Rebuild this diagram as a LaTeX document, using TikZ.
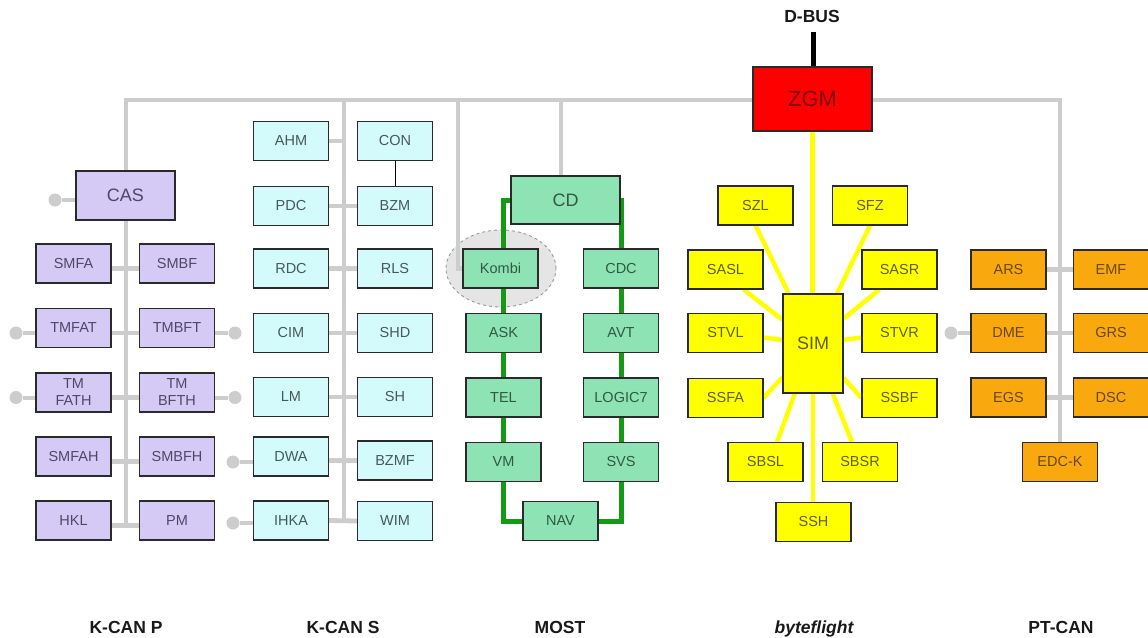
\documentclass[tikz,border=0pt]{standalone}
\usepackage{fontspec}
\setmainfont{Liberation Sans}
\usetikzlibrary{calc,shapes.geometric}
\pgfdeclarelayer{bg}
\pgfsetlayers{bg,main}
\definecolor{busgray}{HTML}{CDCDCD}
\definecolor{boxline}{HTML}{2A2A2A}
\definecolor{kpfill}{HTML}{D5CAF5}
\definecolor{kptext}{HTML}{4E4868}
\definecolor{ksfill}{HTML}{D4FBFB}
\definecolor{kstext}{HTML}{46585A}
\definecolor{mofill}{HTML}{8EE3B4}
\definecolor{motext}{HTML}{2E5A42}
\definecolor{mostgreen}{HTML}{149A14}
\definecolor{bffill}{HTML}{FFFF00}
\definecolor{bftext}{HTML}{5E5E12}
\definecolor{ptfill}{HTML}{F9A90D}
\definecolor{pttext}{HTML}{6A4606}
\definecolor{zgmfill}{HTML}{FF0000}
\definecolor{zgmtext}{HTML}{7A0000}
\tikzset{
  box/.style={draw=boxline, line width=1.1pt, minimum width=75pt, minimum height=39pt,
    inner sep=0pt, align=center, font=\fontsize{14.5}{17}\selectfont},
  big/.style={font=\fontsize{18}{20}\selectfont},
  kp/.style={box, fill=kpfill, text=kptext},
  ks/.style={box, fill=ksfill, text=kstext},
  mo/.style={box, fill=mofill, text=motext},
  bf/.style={box, fill=bffill, text=bftext},
  pt/.style={box, fill=ptfill, text=pttext},
  bus/.style={draw=busgray, line width=4.8pt},
  stub/.style={draw=busgray, line width=4pt},
  dot/.style={circle, fill=busgray, minimum size=13pt, inner sep=0pt},
  mostline/.style={draw=mostgreen, line width=5pt},
  flight/.style={draw=bffill, line width=4.5pt},
  buslabel/.style={font=\bfseries\fontsize{17.5}{19}\selectfont, text=black!90},
  kzone/.style={ellipse, draw=black!40, dashed, line width=0.9pt, fill=black!10,
    minimum width=110pt, minimum height=77pt, inner sep=0pt}
}
\begin{document}
\begin{tikzpicture}[x=1pt,y=-1pt]
\useasboundingbox (0,0) rectangle (1148,637);

% ---------- K-CAN P ----------
\node[kp,big,minimum width=99pt,minimum height=49pt] (CAS) at (125.5,195.5) {CAS};
\node[kp] (SMFA)   at (73.5,263.5) {SMFA};
\node[kp] (SMBF)   at (177,263.5)  {SMBF};
\node[kp] (TMFAT)  at (73.5,328)   {TMFAT};
\node[kp] (TMBFT)  at (177,328)    {TMBFT};
\node[kp] (TMFATH) at (73.5,392.5) {TM\\FATH};
\node[kp] (TMBFTH) at (177,392.5)  {TM\\BFTH};
\node[kp] (SMFAH)  at (73.5,456.5) {SMFAH};
\node[kp] (SMBFH)  at (177,456.5)  {SMBFH};
\node[kp] (HKL)    at (73.5,520.5) {HKL};
\node[kp] (PM)     at (177,520.5)  {PM};

% ---------- K-CAN S ----------
\node[ks] (AHM)  at (291,141)   {AHM};
\node[ks] (CON)  at (395,141)   {CON};
\node[ks] (PDC)  at (291,206)   {PDC};
\node[ks] (BZM)  at (395,206)   {BZM};
\node[ks] (RDC)  at (291,268.5) {RDC};
\node[ks] (RLS)  at (395,268.5) {RLS};
\node[ks] (CIM)  at (291,333)   {CIM};
\node[ks] (SHD)  at (395,333)   {SHD};
\node[ks] (LM)   at (291,397)   {LM};
\node[ks] (SH)   at (395,397)   {SH};
\node[ks] (DWA)  at (291,456.5) {DWA};
\node[ks] (BZMF) at (395,460.5) {BZMF};
\node[ks] (IHKA) at (291,520.5) {IHKA};
\node[ks] (WIM)  at (395,521)   {WIM};

% ---------- MOST ----------
\node[mo,big,minimum width=109pt,minimum height=48pt] (CD) at (565.5,200) {CD};
\node[mo] (Kombi)  at (500.5,268.5) {Kombi};
\node[mo] (CDC)    at (621,268.5)   {CDC};
\node[mo] (ASK)    at (503.5,333)   {ASK};
\node[mo] (AVT)    at (621,333)     {AVT};
\node[mo] (TEL)    at (503.5,397.5) {TEL};
\node[mo] (LOGIC7) at (621,397.5)   {LOGIC7};
\node[mo] (VM)     at (503.5,462)   {VM};
\node[mo] (SVS)    at (621,462)     {SVS};
\node[mo] (NAV)    at (560.5,521)   {NAV};

% ---------- ZGM / byteflight ----------
\node[box,fill=zgmfill,text=zgmtext,font=\fontsize{22}{24}\selectfont,
      minimum width=119pt,minimum height=64pt] (ZGM) at (812.5,99) {ZGM};
\node[buslabel] (DBUS) at (812,16) {D-BUS};
\node[bf,big,minimum width=60pt,minimum height=99pt] (SIM) at (813,343.5) {SIM};
\node[bf] (SZL)  at (755.5,205.5) {SZL};
\node[bf] (SFZ)  at (870,205.5)   {SFZ};
\node[bf] (SASL) at (725.5,269.5) {SASL};
\node[bf] (SASR) at (899.5,269.5) {SASR};
\node[bf] (STVL) at (725.5,333)   {STVL};
\node[bf] (STVR) at (899.5,333)   {STVR};
\node[bf] (SSFA) at (725.5,398)   {SSFA};
\node[bf] (SSBF) at (899.5,398)   {SSBF};
\node[bf] (SBSL) at (765.5,462)   {SBSL};
\node[bf] (SBSR) at (860,462)     {SBSR};
\node[bf] (SSH)  at (813.5,522)   {SSH};

% ---------- PT-CAN ----------
\node[pt] (ARS)  at (1008.5,269.5) {ARS};
\node[pt] (EMF)  at (1111,269.5)   {EMF};
\node[pt] (DME)  at (1008.5,333)   {DME};
\node[pt] (GRS)  at (1111,333)     {GRS};
\node[pt] (EGS)  at (1008.5,397.5) {EGS};
\node[pt] (DSC)  at (1111,397.5)   {DSC};
\node[pt] (EDCK) at (1060,462)     {EDC-K};

% ---------- bus labels ----------
\node[buslabel,anchor=base] (lKP)  at (126,633) {K-CAN P};
\node[buslabel,anchor=base] (lKS)  at (343,633) {K-CAN S};
\node[buslabel,anchor=base] (lMO)  at (560,633) {MOST};
\node[buslabel,anchor=base] (lBF)  at (814,633) {\itshape byteflight};
\node[buslabel,anchor=base] (lPT)  at (1061,633) {PT-CAN};

% ---------- coordinates ----------
\coordinate (kpTop) at (126,100);
\coordinate (kpBot) at (126,525.5);
\coordinate (ksTop) at (344,100);
\coordinate (ksBot) at (344,521);
\coordinate (kbTop) at (458,100);
\coordinate (cdTop) at (561,100);
\coordinate (dbEnd) at (813,32);

\begin{pgfonlayer}{bg}
  \node[kzone] (KZ) at (501,268.5) {};
  % main gray bus
  \draw[bus] (kpBot) -- (kpTop) -| (EDCK.north);
  \draw[bus] (ksTop) -- (ksBot);
  \draw[bus] (kbTop) |- (Kombi.west);
  \draw[bus] (cdTop) -- (cdTop |- CD.north);
  % K-CAN P links
  \foreach \a/\b in {SMFA/SMBF,TMFAT/TMBFT,TMFATH/TMBFTH,SMFAH/SMBFH,HKL/PM}
    \draw[bus] ([yshift=-5pt]\a.east) -- ([yshift=-5pt]\b.west);
  % K-CAN S links
  \draw[bus] (AHM.east) -- (AHM.east -| ksTop);
  \foreach \a/\b in {PDC/BZM,RDC/RLS,CIM/SHD,LM/SH,IHKA/WIM}
    \draw[bus] (\a.east) -- (\b.west);
  \draw[bus] ([yshift=-4pt]DWA.east) -- ([yshift=-4pt]DWA.east -| BZMF.west);
  \draw[line width=1pt, black] (CON) -- (BZM);
  % PT-CAN links
  \foreach \a/\b in {ARS/EMF,DME/GRS,EGS/DSC}
    \draw[bus] (\a.east) -- (\b.west);
  % MOST ring
  \draw[mostline] (CD.west) -| (ASK.center) -- (VM.center) |- (NAV.west);
  \draw[mostline] (CD.east) -| (CDC.center) -- (SVS.center) |- (NAV.east);
  % byteflight star
  \draw[flight] (ZGM.south) -- (ZGM.south |- SIM.north);
  \draw[flight] (SIM.south) -- (SIM.south |- SSH.north);
  \draw[flight] (SZL.south) -- (SIM);
  \draw[flight] (SFZ.south) -- (SIM);
  \draw[flight] (SASL.-48) -- (SIM);
  \draw[flight] (SASR.225) -- (SIM);
  \draw[flight] (STVL) -- (SIM);
  \draw[flight] (STVR) -- (SIM);
  \draw[flight] (SSFA.east) -- (SIM);
  \draw[flight] (SSBF.west) -- (SIM);
  \draw[flight] (SBSL.60) -- (SIM);
  \draw[flight] (SBSR.112) -- (SIM);
  % D-BUS
  \draw[line width=5pt, black] (dbEnd) -- (dbEnd |- ZGM.north);
\end{pgfonlayer}

% ---------- dots and stubs ----------
\node[dot] (dCAS)    at (55,200)    {};
\node[dot] (dTMFAT)  at (16,333)    {};
\node[dot] (dTMBFT)  at (235,333)   {};
\node[dot] (dTMFATH) at (16,397.5)  {};
\node[dot] (dTMBFTH) at (235,397.5) {};
\node[dot] (dDWA)    at (233,462)   {};
\node[dot] (dIHKA)   at (233,523)   {};
\node[dot] (dDME)    at (951,333)   {};
\begin{pgfonlayer}{bg}
  \draw[stub] (dCAS) -- (dCAS -| CAS.west);
  \draw[stub] (dTMFAT) -- (dTMFAT -| TMFAT.west);
  \draw[stub] (dTMBFT) -- (dTMBFT -| TMBFT.east);
  \draw[stub] (dTMFATH) -- (dTMFATH -| TMFATH.west);
  \draw[stub] (dTMBFTH) -- (dTMBFTH -| TMBFTH.east);
  \draw[stub] (dDWA) -- (dDWA -| DWA.west);
  \draw[stub] (dIHKA) -- (dIHKA -| IHKA.west);
  \draw[stub] (dDME) -- (dDME -| DME.west);
\end{pgfonlayer}
\end{tikzpicture}
\end{document}
